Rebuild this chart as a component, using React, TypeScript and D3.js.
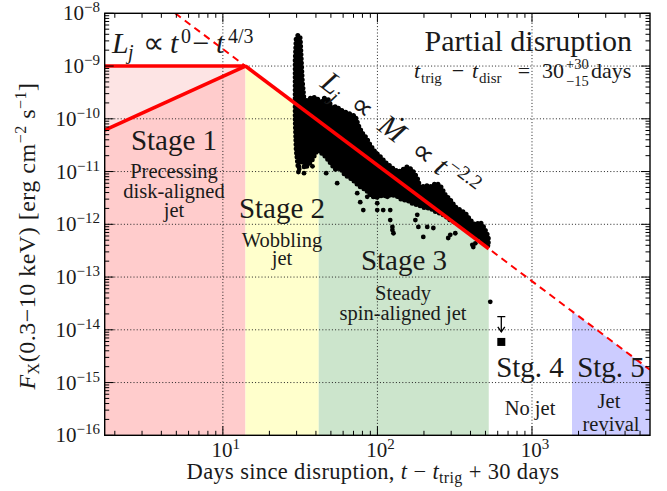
import React from 'react';
import * as d3 from 'd3';

const FONT = '"Liberation Serif", "Times New Roman", serif';
const W = 667;
const H = 491;
const PL = 104.7, PR = 650, PT = 13.3, PB = 435.3;

// axis domains and ticks
const xDomain: [number, number] = [1.72, 5800];
const yDomain: [number, number] = [1e-16, 1e-8];
const xMajor = [10, 100, 1000];
const xMajorExp = ['1', '2', '3'];
const yMajorExp = [-16, -15, -14, -13, -12, -11, -10, -9, -8];

// stages
const stageStart = [1.72, 14, 41.7, 525, 1815];
const stageEnd = [14, 41.7, 525, 1815, 5800];
const stageFill = ['#ffcccc', '#ffffcc', '#cce5cc', 'none', '#ccccff'];

// model lines (power laws)
const cornerT = 14;
const cornerF = 1e-9;
const decayIndex = -2.2;
const riseIndex = 4 / 3;
const solidEndT = 525;

// dense band of detections: time, upper and lower log10 flux
const bandT = [29.38, 29.82, 30.72, 31.65, 32.61, 33.59, 35.66, 37.84, 40.77, 42.64, 45.25, 48.04, 50.98, 54.11, 57.43, 61.88, 66.68, 71.84, 75.12, 79.72, 84.62, 89.82, 96.78, 104.3, 114.0, 124.7, 136.3, 144.7, 155.9, 168.0, 180.9, 189.2, 203.9, 219.6, 240.3, 255.0, 274.7, 296.0, 318.9, 343.6, 370.2, 398.6, 429.5, 462.8, 491.3, 521.5];
const bandHiLog = [-8.89, -8.47, -8.41, -8.47, -9.26, -9.68, -9.64, -9.59, -9.61, -9.72, -9.61, -9.64, -9.8, -9.76, -9.83, -9.87, -9.91, -9.95, -10.12, -10.27, -10.36, -10.5, -10.63, -10.72, -10.84, -10.93, -11.01, -10.97, -10.91, -10.97, -11.12, -11.31, -11.26, -11.29, -11.22, -11.27, -11.44, -11.54, -11.67, -11.73, -11.79, -11.92, -12.01, -11.96, -12.07, -12.24];
const bandLoLog = [-10.02, -10.59, -10.93, -10.78, -10.59, -10.93, -10.88, -10.78, -10.59, -10.63, -10.69, -10.78, -10.88, -10.97, -10.93, -11.07, -11.12, -11.2, -11.26, -11.31, -11.35, -11.44, -11.5, -11.46, -11.46, -11.44, -11.48, -11.54, -11.54, -11.6, -11.63, -11.65, -11.69, -11.69, -11.77, -11.79, -11.84, -11.92, -11.96, -12.01, -12.07, -12.14, -12.2, -12.26, -12.33, -12.41];

// scattered detections
const ptT = [46.6, 54.9, 71.8, 74.0, 85.9, 99.7, 109, 125, 127, 116, 81, 121, 181, 176, 184, 210, 230, 198, 287, 319, 417, 77.4, 296, 411, 430, 99.7, 121, 125, 30.8, 31.2, 33.5, 38, 484, 537];
const ptLogF = [-11.03, -11.22, -11.16, -11.41, -11.48, -11.6, -11.73, -12.05, -12.17, -11.48, -11.73, -11.92, -11.82, -11.92, -12.05, -12.05, -12.07, -12.24, -12.26, -12.17, -12.43, -11.58, -12.2, -12.39, -12.36, -11.73, -11.73, -12.11, -11.01, -10.95, -11.03, -10.9, -12.07, -13.47];

// late-time upper limit and square detection
const ulT = 633;
const ulCapLog = -13.75;
const ulTipLog = -14.04;
const sqT = 633;
const sqLogF = -14.23;

const x = d3.scaleLog().domain(xDomain).range([PL, PR]);
const y = d3.scaleLog().domain(yDomain).range([PB, PT]);

const decay = (t: number) => cornerF * Math.pow(t / cornerT, decayIndex);
const rise = (t: number) => cornerF * Math.pow(t / cornerT, riseIndex);

function minorTicks(lo: number, hi: number) {
  const out: number[] = [];
  for (let e = Math.floor(Math.log10(lo)); e <= Math.ceil(Math.log10(hi)); e++) {
    for (let m = 2; m <= 9; m++) {
      const v = m * Math.pow(10, e);
      if (v > lo && v < hi) out.push(v);
    }
  }
  return out;
}

const T = (props: any) => <text fontFamily={FONT} fill="#1a1a1a" {...props} />;

export default function App() {
  const poly = (pts: [number, number][]) => 'M' + pts.map(p => `${x(p[0])},${y(p[1])}`).join('L') + 'Z';

  const stageFills = [1, 2, 4].map(i => {
    const a = stageStart[i], b = stageEnd[i];
    return <path key={i} d={poly([[a, yDomain[0]], [a, decay(a)], [b, decay(b)], [b, yDomain[0]]])} fill={stageFill[i]} />;
  });

  const x0 = xDomain[0];
  const stage1Dark = poly([[x0, yDomain[0]], [x0, rise(x0)], [cornerT, cornerF], [cornerT, yDomain[0]]]);
  const stage1Light = poly([[x0, rise(x0)], [x0, cornerF], [cornerT, cornerF]]);

  const band = bandT.map((t, i) => ({ t, hi: Math.pow(10, bandHiLog[i]), lo: Math.pow(10, bandLoLog[i]) }));
  const bandArea = d3.area<any>().x(d => x(d.t)).y0(d => y(d.lo)).y1(d => y(d.hi))(band) || '';

  const tTop = cornerT * Math.pow(yDomain[1] / cornerF, 1 / decayIndex);
  const dashLine = d3.line<number>().x(t => x(t)).y(t => y(decay(t)))([tTop, xDomain[1]]) || '';
  const solidLine = d3.line<number>().x(t => x(t)).y(t => y(decay(t)))([cornerT, solidEndT]) || '';
  const riseLine = d3.line<number>().x(t => x(t)).y(t => y(rise(t)))([x0, cornerT]) || '';
  const plateau = `M${x(x0)},${y(cornerF)}L${x(cornerT)},${y(cornerF)}`;

  const xMinor = minorTicks(xDomain[0], xDomain[1]);
  const yMinor = minorTicks(yDomain[0], yDomain[1]);
  const yMajor = yMajorExp.map(e => Math.pow(10, e));

  const angle = Math.atan2(y(decay(100)) - y(decay(10)), x(100) - x(10)) * 180 / Math.PI;

  const ulX = x(ulT), ulC = y(Math.pow(10, ulCapLog)), ulTip = y(Math.pow(10, ulTipLog));
  const sqX = x(sqT), sqY = y(Math.pow(10, sqLogF));

  return (
    <svg width={W} height={H} style={{ position: 'absolute', left: 0, top: 0, background: '#fff' }}>
      <defs>
        <clipPath id="plot"><rect x={PL} y={PT} width={PR - PL} height={PB - PT} /></clipPath>
      </defs>
      <rect width={W} height={H} fill="#fff" />
      <g clipPath="url(#plot)">
        <path d={stage1Dark} fill="#ffcccc" />
        <path d={stage1Light} fill="#fde4e4" />
        {stageFills}
        {xMajor.map(v => <line key={'gx' + v} x1={x(v)} x2={x(v)} y1={PT} y2={PB} stroke="#222" strokeWidth={1} strokeDasharray="1 2.2" />)}
        {yMajor.slice(1, -1).map(v => <line key={'gy' + v} x1={PL} x2={PR} y1={y(v)} y2={y(v)} stroke="#222" strokeWidth={1} strokeDasharray="1 2.2" />)}
        <path d={bandArea} fill="#000" stroke="none" />
        <path d={bandArea} fill="none" stroke="#000" strokeWidth={5} strokeDasharray="0 4.2" strokeLinecap="round" />
        {ptT.map((t, i) => <circle key={'p' + i} cx={x(t)} cy={y(Math.pow(10, ptLogF[i]))} r={2.4} fill="#000" />)}
        <line x1={ulX - 4} x2={ulX + 4} y1={ulC} y2={ulC} stroke="#000" strokeWidth={1.3} />
        <line x1={ulX} x2={ulX} y1={ulC} y2={ulTip} stroke="#000" strokeWidth={1.3} />
        <path d={`M${ulX - 3.5},${ulTip - 5}L${ulX},${ulTip}L${ulX + 3.5},${ulTip - 5}`} fill="none" stroke="#000" strokeWidth={1.3} />
        <rect x={sqX - 4} y={sqY - 4} width={8} height={8} fill="#000" />
        <path d={dashLine} stroke="#ff0000" strokeWidth={2} strokeDasharray="7 5" fill="none" />
        <path d={solidLine} stroke="#ff0000" strokeWidth={3.6} fill="none" />
        <path d={riseLine} stroke="#ff0000" strokeWidth={3.6} fill="none" />
        <path d={plateau} stroke="#ff0000" strokeWidth={3.6} fill="none" />
      </g>

      {xMajor.map(v => (
        <g key={'tx' + v}>
          <line x1={x(v)} x2={x(v)} y1={PB} y2={PB - 9} stroke="#000" strokeWidth={1} />
          <line x1={x(v)} x2={x(v)} y1={PT} y2={PT + 9} stroke="#000" strokeWidth={1} />
        </g>
      ))}
      {xMinor.map(v => (
        <g key={'tmx' + v}>
          <line x1={x(v)} x2={x(v)} y1={PB} y2={PB - 4.5} stroke="#000" strokeWidth={1} />
          <line x1={x(v)} x2={x(v)} y1={PT} y2={PT + 4.5} stroke="#000" strokeWidth={1} />
        </g>
      ))}
      {yMajor.map(v => (
        <g key={'ty' + v}>
          <line x1={PL} x2={PL + 9} y1={y(v)} y2={y(v)} stroke="#000" strokeWidth={1} />
          <line x1={PR} x2={PR - 9} y1={y(v)} y2={y(v)} stroke="#000" strokeWidth={1} />
        </g>
      ))}
      {yMinor.map(v => (
        <g key={'tmy' + v}>
          <line x1={PL} x2={PL + 4.5} y1={y(v)} y2={y(v)} stroke="#000" strokeWidth={1} />
          <line x1={PR} x2={PR - 4.5} y1={y(v)} y2={y(v)} stroke="#000" strokeWidth={1} />
        </g>
      ))}
      <rect x={PL} y={PT} width={PR - PL} height={PB - PT} fill="none" stroke="#000" strokeWidth={1.4} />

      {yMajorExp.map((e, i) => (
        <T key={'ly' + e} x={100} y={y(yMajor[i]) + 7} textAnchor="end" fontSize={21}>
          10<tspan fontSize={15} dy={-8}>{'\u2212' + Math.abs(e)}</tspan>
        </T>
      ))}
      {xMajor.map((v, i) => (
        <T key={'lx' + v} x={x(v) + 3} y={457} textAnchor="middle" fontSize={21}>
          10<tspan fontSize={15} dy={-8}>{xMajorExp[i]}</tspan>
        </T>
      ))}

      <T x={373} y={479} textAnchor="middle" fontSize={22.5} letterSpacing={0.35}>
        Days since disruption,  <tspan fontStyle="italic">t</tspan> − <tspan fontStyle="italic">t</tspan><tspan fontSize={16} dy={4}>trig</tspan><tspan dy={-4}> + 30 days</tspan>
      </T>
      <T transform="translate(35,236) rotate(-90)" textAnchor="middle" fontSize={24} letterSpacing={0.5}>
        <tspan fontStyle="italic">F</tspan><tspan fontSize={16} dy={4}>X</tspan><tspan dy={-4}>(0.3−10 keV) [erg cm</tspan><tspan fontSize={16} dy={-9}>−2</tspan><tspan dy={9}> s</tspan><tspan fontSize={16} dy={-9}>−1</tspan><tspan dy={9}>]</tspan>
      </T>

      {/* L_j ∝ t^0 − t^{4/3} */}
      <T x={112} y={53} fontSize={30} fontStyle="italic">L</T>
      <T x={128} y={59} fontSize={20} fontStyle="italic">j</T>
      <T x={153.5} y={53} fontSize={30} textAnchor="middle">∝</T>
      <T x={170} y={53} fontSize={30} fontStyle="italic">t</T>
      <T x={181} y={43} fontSize={20}>0</T>
      <T x={201} y={53} fontSize={30} textAnchor="middle">−</T>
      <T x={216} y={53} fontSize={30} fontStyle="italic">t</T>
      <T x={228} y={43} fontSize={20}>4/3</T>

      <T x={632} y={51} textAnchor="end" fontSize={30}>Partial disruption</T>
      <T x={414} y={78} fontSize={22} fontStyle="italic">t</T>
      <T x={421} y={83} fontSize={15}>trig</T>
      <T x={458} y={78} fontSize={22} textAnchor="middle">−</T>
      <T x={472} y={78} fontSize={22} fontStyle="italic">t</T>
      <T x={479} y={83} fontSize={15}>disr</T>
      <T x={524} y={78} fontSize={22} textAnchor="middle">=</T>
      <T x={542} y={78} fontSize={22}>30</T>
      <T x={566} y={69} fontSize={14.5}>+30</T>
      <T x={566} y={86} fontSize={14.5}>−15</T>
      <T x={591} y={78} fontSize={22}>days</T>

      {/* L_j ∝ Mdot ∝ t^-2.2 along the line */}
      <g transform={`translate(319,86) rotate(${angle})`}>
        <T x={0} y={0} fontSize={30} fontStyle="italic">L</T>
        <T x={16} y={6} fontSize={20} fontStyle="italic">j</T>
        <T x={47} y={0} fontSize={30} textAnchor="middle">∝</T>
        <T x={84} y={0} fontSize={30} textAnchor="middle" fontStyle="italic">Ṁ</T>
        <T x={123} y={0} fontSize={30} textAnchor="middle">∝</T>
        <T x={142} y={0} fontSize={30} fontStyle="italic">t</T>
        <T x={152} y={-11} fontSize={20}>−2.2</T>
      </g>

      <T x={174} y={150} textAnchor="middle" fontSize={29}>Stage 1</T>
      <T x={174} y={178} textAnchor="middle" fontSize={20.5}>Precessing</T>
      <T x={174} y={198} textAnchor="middle" fontSize={20.5}>disk-aligned</T>
      <T x={174} y={217} textAnchor="middle" fontSize={20.5}>jet</T>

      <T x={282} y={218} textAnchor="middle" fontSize={29}>Stage 2</T>
      <T x={282} y={247} textAnchor="middle" fontSize={20.5}>Wobbling</T>
      <T x={282} y={265} textAnchor="middle" fontSize={20.5}>jet</T>

      <T x={404} y={270} textAnchor="middle" fontSize={29}>Stage 3</T>
      <T x={403} y={300} textAnchor="middle" fontSize={20.5}>Steady</T>
      <T x={403} y={320} textAnchor="middle" fontSize={20.5}>spin-aligned jet</T>

      <T x={530} y={377} textAnchor="middle" fontSize={29}>Stg. 4</T>
      <T x={530} y={415} textAnchor="middle" fontSize={20.5}>No jet</T>
      <T x={611} y={377} textAnchor="middle" fontSize={29}>Stg. 5</T>
      <T x={609} y={408} textAnchor="middle" fontSize={20.5}>Jet</T>
      <T x={611} y={431} textAnchor="middle" fontSize={20.5}>revival</T>
    </svg>
  );
}
